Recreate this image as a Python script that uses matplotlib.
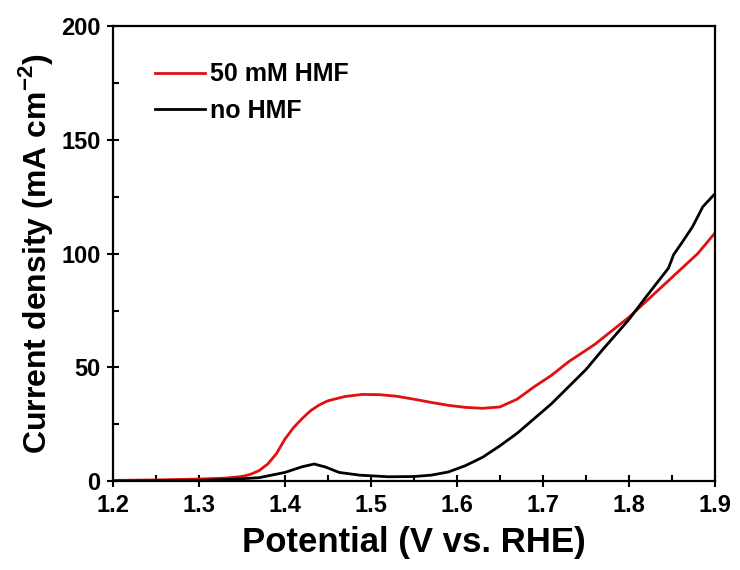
import matplotlib
matplotlib.use("Agg")
import matplotlib.pyplot as plt
from matplotlib.ticker import MultipleLocator
import numpy as np

plt.rcParams['font.family'] = ['Liberation Sans', 'DejaVu Sans']
plt.rcParams['font.weight'] = 'bold'
plt.rcParams['mathtext.fontset'] = 'custom'
plt.rcParams['mathtext.rm'] = 'Liberation Sans:bold'
plt.rcParams['mathtext.bf'] = 'Liberation Sans:bold'

# Data
hmf_v = [1.20, 1.25, 1.30, 1.33, 1.35, 1.36, 1.37, 1.38, 1.39, 1.40, 1.41, 1.42, 1.43, 1.44,
         1.45, 1.47, 1.49, 1.51, 1.53, 1.55, 1.57, 1.59, 1.61, 1.63, 1.65, 1.67, 1.69,
         1.71, 1.73, 1.76, 1.78, 1.80, 1.82, 1.84, 1.86, 1.88, 1.90]
hmf_j = [0.3, 0.5, 0.9, 1.3, 2.0, 3.0, 4.6, 7.5, 12.0, 18.5, 23.5, 27.5, 31.0, 33.5,
         35.3, 37.2, 38.1, 38.0, 37.3, 36.0, 34.6, 33.3, 32.4, 32.0, 32.6, 36.0, 41.5,
         46.5, 52.5, 60.0, 66.0, 72.0, 79.0, 86.0, 93.0, 100.0, 109.0]

no_v = [1.20, 1.25, 1.30, 1.34, 1.37, 1.40, 1.42, 1.434, 1.447, 1.463, 1.487, 1.52, 1.55,
        1.57, 1.59, 1.61, 1.63, 1.65, 1.67, 1.69, 1.71, 1.73, 1.75, 1.77, 1.80, 1.82,
        1.846, 1.849, 1.852, 1.862, 1.874, 1.886, 1.90]
no_j = [0.0, 0.1, 0.3, 0.8, 1.5, 3.8, 6.3, 7.5, 6.2, 3.8, 2.6, 1.9, 2.0,
        2.6, 4.0, 6.8, 10.5, 15.5, 21.0, 27.5, 34.0, 41.5, 49.0, 58.0, 71.0, 81.0,
        93.6, 96.5, 99.5, 105.0, 111.8, 120.6, 126.3]

fig = plt.figure(figsize=(7.4, 5.7), dpi=100)
ax = fig.add_axes([0.1527, 0.156, 0.8133, 0.798])

ax.plot(hmf_v, hmf_j, color='#e01010', lw=2.0, label='50 mM HMF')
ax.plot(no_v, no_j, color='black', lw=2.0, label='no HMF')

ax.set_xlim(1.2, 1.9)
ax.set_ylim(0, 200)
ax.xaxis.set_major_locator(MultipleLocator(0.1))
ax.xaxis.set_minor_locator(MultipleLocator(0.05))
ax.yaxis.set_major_locator(MultipleLocator(50))
ax.yaxis.set_minor_locator(MultipleLocator(25))
ax.tick_params(which='major', direction='inout', length=8, width=1.5, labelsize=17, pad=5)
ax.tick_params(which='minor', direction='in', length=4, width=1.5)
ax.tick_params(top=False, right=False, which='both')
for s in ax.spines.values():
    s.set_linewidth(1.6)

ax.set_xlabel('Potential (V vs. RHE)', fontsize=25, fontweight='bold', labelpad=7)
ax.set_ylabel('Current density (mA cm$^{-2}$)', fontsize=23, fontweight='bold', labelpad=4)

leg = ax.legend(loc='upper left', bbox_to_anchor=(0.032, 0.97), frameon=False,
                prop={'size': 18, 'weight': 'bold'}, handlelength=2.0, handletextpad=0.2,
                labelspacing=0.5)

fig.savefig('out.png', dpi=100)
